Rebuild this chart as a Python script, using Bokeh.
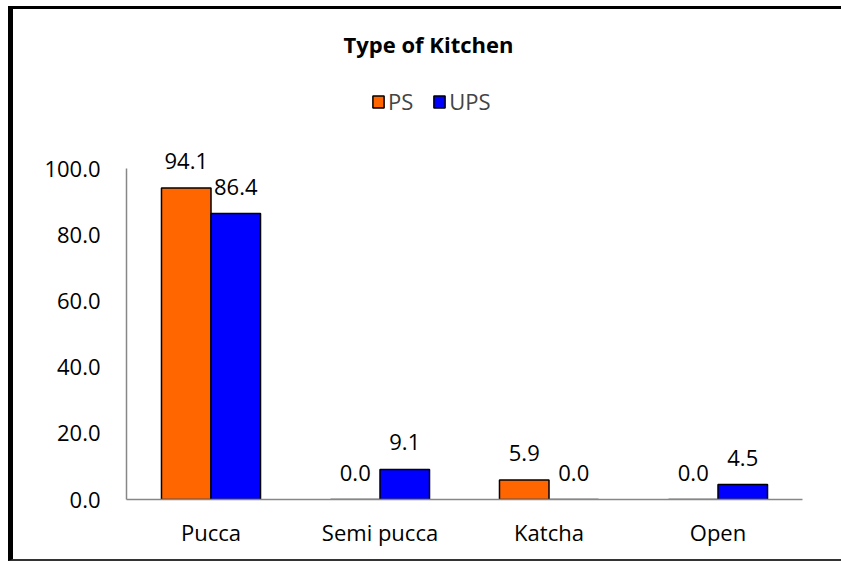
from bokeh.plotting import figure
from bokeh.models import FactorRange, Range1d, ColumnDataSource, Legend, LegendItem, Label, NumeralTickFormatter, FixedTicker
from bokeh.transform import dodge
from bokeh.core.properties import value
from bokeh.embed import file_html
from bokeh.resources import INLINE

categories = ["Pucca", "Semi pucca", "Katcha", "Open"]
ps_values = [94.1, 0.0, 5.9, 0.0]
ups_values = [86.4, 9.1, 0.0, 4.5]
series_names = ["PS", "UPS"]
y_ticks = [0, 20, 40, 60, 80, 100]
title_text = "Type of Kitchen"

FONT = "Open Sans"
FS = "22px"
ORANGE = "#FF6600"
BLUE = "#0000FF"
AXIS_GRAY = "#878787"

src = ColumnDataSource(dict(
    cat=categories,
    ps=ps_values,
    ups=ups_values,
    ps_txt=["%.1f" % v for v in ps_values],
    ups_txt=["%.1f" % v for v in ups_values],
))

# frame: value 0 at page y 499, value 100 at page y 168 -> 331 px per 100
FRAME_H = 479
Y_MAX = 100 * FRAME_H / 331.0

p = figure(
    x_range=FactorRange(factors=categories, range_padding=0),
    y_range=Range1d(0, Y_MAX),
    width=845, height=555,
    min_border_left=113, min_border_right=56,
    min_border_top=11, min_border_bottom=65,
    output_backend="svg", toolbar_location=None,
    title=None,
)
p.styles = {"margin-left": "8px", "margin-top": "6px",
            "border-left": "5px solid black", "border-top": "3px solid black",
            "border-bottom": "2px solid #333333", "border-right": "none"}
p.outline_line_color = None
p.xgrid.grid_line_color = None
p.ygrid.grid_line_color = None

bw = 0.293
off = bw / 2
r_ps = p.vbar(x=dodge("cat", -off, range=p.x_range), top="ps", width=bw, source=src,
              fill_color=ORANGE, line_color="black", line_width=1.5)
r_ups = p.vbar(x=dodge("cat", off, range=p.x_range), top="ups", width=bw, source=src,
               fill_color=BLUE, line_color="black", line_width=1.5)

p.text(x=dodge("cat", -off, range=p.x_range), y="ps", text="ps_txt", source=src,
       text_font=value(FONT), text_font_size=FS, text_align="center",
       text_baseline="alphabetic", y_offset=-27, text_color="black")
p.text(x=dodge("cat", off, range=p.x_range), y="ups", text="ups_txt", source=src,
       text_font=value(FONT), text_font_size=FS, text_align="center",
       text_baseline="alphabetic", y_offset=-27, text_color="black")

for ax in (p.xaxis[0], p.yaxis[0]):
    ax.axis_line_color = AXIS_GRAY
    ax.axis_line_width = 1.5
    ax.major_tick_line_color = None
    ax.minor_tick_line_color = None
    ax.major_label_text_font = FONT
    ax.major_label_text_font_size = FS
    ax.major_label_text_color = "black"

p.yaxis[0].ticker = FixedTicker(ticks=y_ticks)
p.yaxis[0].bounds = (0, 100)
p.yaxis[0].formatter = NumeralTickFormatter(format="0.0")
p.yaxis[0].major_label_standoff = 20
p.xaxis[0].major_label_standoff = 11

legend = Legend(
    items=[LegendItem(label=series_names[0], renderers=[r_ps]),
           LegendItem(label=series_names[1], renderers=[r_ups])],
    orientation="horizontal", location=(245, 383),
    border_line_color=None, background_fill_alpha=0,
    padding=0, margin=0, spacing=19,
    glyph_width=14, glyph_height=15, label_standoff=3,
    label_text_font=FONT, label_text_font_size=FS, label_height=15,
)
p.add_layout(legend, "center")

p.add_layout(Label(x=302, y=456, x_units="screen", y_units="screen", text=title_text,
                   text_font=FONT, text_font_size=FS, text_font_style="bold",
                   text_color="black", text_align="center", text_baseline="alphabetic"))

open("out.html", "w").write(file_html(p, INLINE))
